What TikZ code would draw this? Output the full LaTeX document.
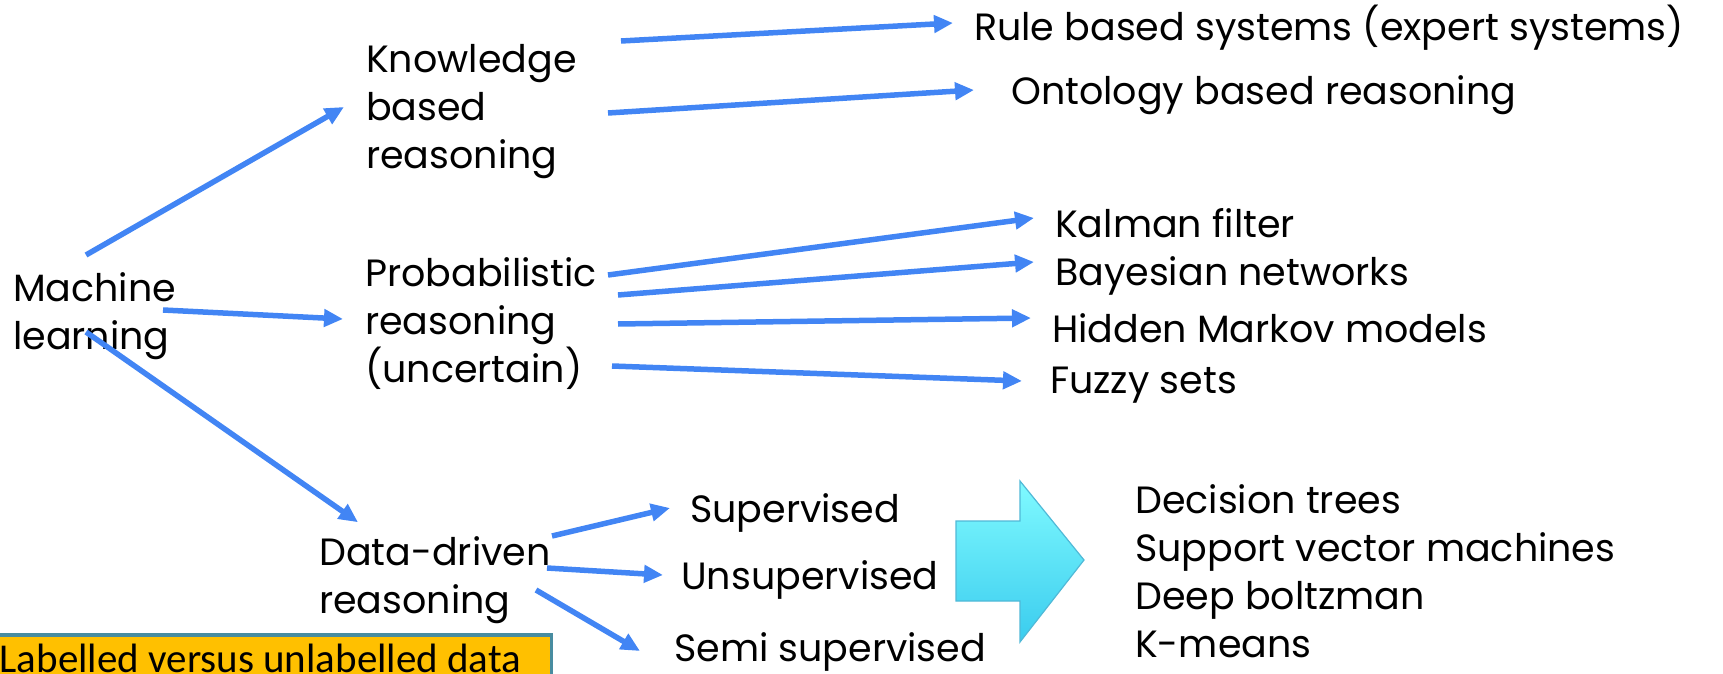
\documentclass[tikz,border=0pt]{standalone}
\usepackage{fontspec}
\setmainfont{Poppins}
\newfontfamily\calibri{Carlito}
\usetikzlibrary{arrows.meta}
\definecolor{arrowblue}{RGB}{66,133,244}
\definecolor{boxorange}{RGB}{255,192,0}
\definecolor{boxedge}{RGB}{72,140,160}
\definecolor{cyantop}{RGB}{128,250,255}
\definecolor{cyanbot}{RGB}{58,204,238}
\definecolor{cyanedge}{RGB}{80,185,215}

\begin{document}
\begin{tikzpicture}[x=1pt, y=-1pt,
    every node/.style={font=\fontsize{38}{48}\selectfont, inner sep=0pt, align=left, anchor=west},
    topic/.style={inner xsep=22pt},
    leaf/.style={inner xsep=21pt},
    arr/.style={line width=5.5pt, arrowblue, -{Triangle[length=19pt,width=17pt]}},
    labelbox/.style={fill=boxorange, draw=boxedge, line width=3.5pt, inner xsep=30pt, inner ysep=9pt,
      font=\calibri\fontsize{41}{48}\selectfont}]
  \useasboundingbox (0,0) rectangle (1723,674);
  \clip (0,0) rectangle (1723,674);

  % main topics
  \node (ml) at (13,316) {Machine\\learning};
  \node[topic] (kbr) at (344,112) {Knowledge\\based\\reasoning};
  \node[topic] (pr) at (343,324) {Probabilistic\\reasoning\\(uncertain)};
  \node (ddr) at (319,580) {Data-driven\\reasoning};

  % leaves
  \node[leaf] (rule) at (953,28) {Rule based systems (expert systems)};
  \node[leaf, inner xsep=37pt] (onto) at (974,95) {Ontology based reasoning};
  \node[leaf] (kalman) at (1034,223) {Kalman filter};
  \node[leaf] (bayes) at (1034,276) {Bayesian networks};
  \node[leaf] (hmm) at (1031,328) {Hidden Markov models};
  \node[leaf, inner xsep=28pt] (fuzzy) at (1022,385) {Fuzzy sets};
  \node[leaf, inner xsep=20pt] (sup) at (670,513) {Supervised};
  \node[leaf, inner xsep=18pt] (unsup) at (663,580) {Unsupervised};
  \node[leaf, inner xsep=34pt] (semi) at (640,652) {Semi supervised};
  \node (algs) at (1135,571) {\fontsize{38}{50}\selectfont Decision trees\\Support vector machines\\Deep boltzman\\K-means};

  % start points
  \coordinate (m1) at (86,255);
  \coordinate (m2) at (163,310);
  \coordinate (m3) at (86,332);
  \coordinate (k1) at (621,41);
  \coordinate (k2) at (608,113);
  \coordinate (p1) at (608,275);
  \coordinate (p2) at (618,295);
  \coordinate (p3) at (618,324);
  \coordinate (p4) at (612,366);
  \coordinate (d1) at (552,536);
  \coordinate (d2) at (547,568);
  \coordinate (d3) at (536,590);

  \draw[arr] (m1) -- ([yshift=5pt]kbr.west);
  \draw[arr] (m2) -- ([yshift=5pt]pr.west);
  \draw[arr] (m3) -- ([xshift=39pt,yshift=14pt]ddr.north west);
  \draw[arr] (k1) -- ([yshift=5pt]rule.west);
  \draw[arr] (k2) -- ([yshift=5pt]onto.west);
  \draw[arr] (p1) -- ([yshift=5pt]kalman.west);
  \draw[arr] (p2) -- ([yshift=14pt]bayes.west);
  \draw[arr] (p3) -- ([yshift=10pt]hmm.west);
  \draw[arr] (p4) -- ([yshift=4pt]fuzzy.west);
  \draw[arr] (d1) -- ([yshift=5pt]sup.west);
  \draw[arr] (d2) -- ([yshift=5pt]unsup.west);
  \draw[arr] (d3) -- ([yshift=1pt]semi.west);

  % block arrow
  \shade[top color=cyantop, bottom color=cyanbot, draw=cyanedge, line width=1.2pt]
    (956,521) -- (1020,521) -- (1020,481) -- (1084,560) -- (1020,642) -- (1020,601) -- (956,601) -- cycle;

  \node[labelbox, anchor=north east] (lbl) at (553,633) {Labelled versus unlabelled data};
\end{tikzpicture}
\end{document}
